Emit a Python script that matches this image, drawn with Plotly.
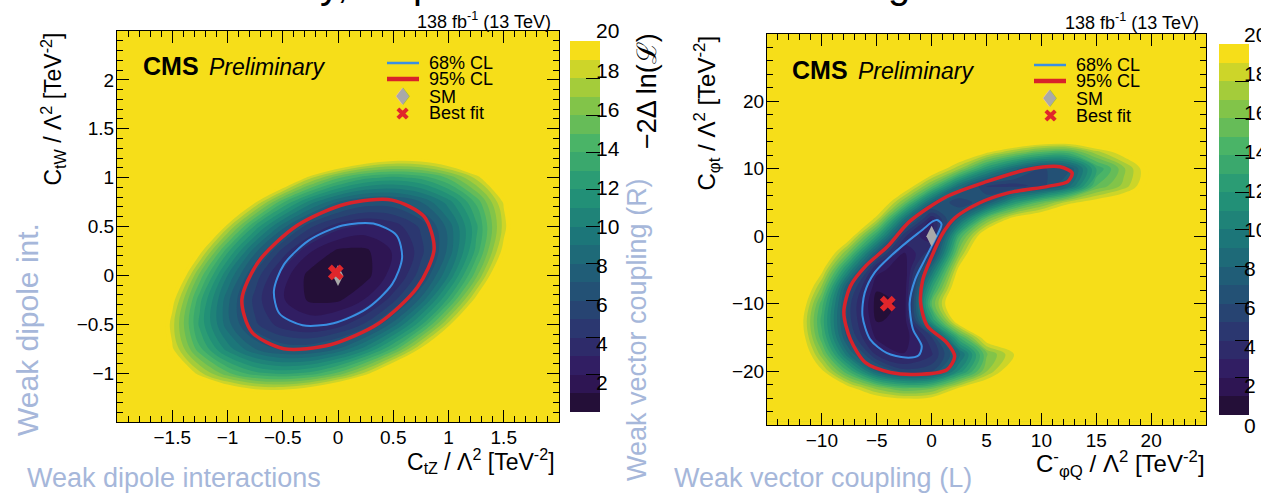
import numpy as np
import plotly.graph_objects as go

W, H = 1261, 495

# ====================== data ======================
# ---- left panel: C_tZ (x) vs C_tW (y), -2 Delta ln L on a grid ----
left_x = [-2.0, -1.75, -1.5, -1.25, -1.0, -0.75, -0.5, -0.25, 0.0, 0.25, 0.5, 0.75, 1.0, 1.25, 1.5, 1.75, 2.0]
left_y = [-1.5, -1.25, -1.0, -0.75, -0.5, -0.25, 0.0, 0.25, 0.5, 0.75, 1.0, 1.25, 1.5, 1.75, 2.0, 2.25, 2.5]
left_z = [
    [30, 30, 30, 30, 30, 30, 30, 30, 30, 30, 30, 30, 30, 30, 30, 30, 30],
    [30, 30, 29.5, 25.8, 23.3, 22.0, 22.0, 23.3, 25.8, 29.5, 30, 30, 30, 30, 30, 30, 30],
    [30, 28.3, 22.7, 18.3, 15.2, 13.3, 12.7, 13.3, 15.2, 18.3, 22.7, 28.3, 30, 30, 30, 30, 30],
    [30, 25.5, 19.2, 14.2, 10.5, 8.0, 6.7, 6.7, 8.0, 10.5, 14.2, 19.2, 25.5, 30, 30, 30, 30],
    [30, 25.2, 18.4, 12.7, 8.4, 5.2, 3.4, 2.7, 3.4, 5.2, 8.4, 12.7, 18.4, 25.2, 30, 30, 30],
    [30, 27.1, 19.6, 13.3, 8.3, 4.6, 2.1, 0.8, 0.8, 2.1, 4.6, 8.3, 13.3, 19.6, 27.1, 30, 30],
    [30, 30, 22.5, 15.6, 10.0, 5.6, 2.5, 0.6, 0.0, 0.6, 2.5, 5.6, 10.0, 15.6, 22.5, 30, 30],
    [30, 30, 27.1, 19.6, 13.3, 8.3, 4.6, 2.1, 0.8, 0.8, 2.1, 4.6, 8.3, 13.3, 19.6, 27.1, 30],
    [30, 30, 30, 25.2, 18.4, 12.7, 8.4, 5.2, 3.4, 2.7, 3.4, 5.2, 8.4, 12.7, 18.4, 25.2, 30],
    [30, 30, 30, 30, 25.5, 19.2, 14.2, 10.5, 8.0, 6.7, 6.7, 8.0, 10.5, 14.2, 19.2, 25.5, 30],
    [30, 30, 30, 30, 30, 28.3, 22.7, 18.3, 15.2, 13.3, 12.7, 13.3, 15.2, 18.3, 22.7, 28.3, 30],
    [30, 30, 30, 30, 30, 30, 30, 29.5, 25.8, 23.3, 22.0, 22.0, 23.3, 25.8, 29.5, 30, 30],
    [30, 30, 30, 30, 30, 30, 30, 30, 30, 30, 30, 30, 30, 30, 30, 30, 30],
    [30, 30, 30, 30, 30, 30, 30, 30, 30, 30, 30, 30, 30, 30, 30, 30, 30],
    [30, 30, 30, 30, 30, 30, 30, 30, 30, 30, 30, 30, 30, 30, 30, 30, 30],
    [30, 30, 30, 30, 30, 30, 30, 30, 30, 30, 30, 30, 30, 30, 30, 30, 30],
    [30, 30, 30, 30, 30, 30, 30, 30, 30, 30, 30, 30, 30, 30, 30, 30, 30],
]
left_bestfit = [-0.02, 0.03]
left_sm = [0.0, 0.0]
left_cl68_x = [0.53, 0.32, 0.04, -0.26, -0.49, -0.58, -0.53, -0.32, -0.04, 0.26, 0.49, 0.58]
left_cl68_y = [0.41, 0.53, 0.51, 0.36, 0.11, -0.16, -0.39, -0.51, -0.49, -0.34, -0.09, 0.18]
left_cl95_x = [0.78, 0.49, 0.07, -0.37, -0.72, -0.87, -0.78, -0.49, -0.07, 0.37, 0.72, 0.87]
left_cl95_y = [0.60, 0.77, 0.73, 0.51, 0.14, -0.25, -0.58, -0.75, -0.71, -0.49, -0.12, 0.27]

# ---- right panel: C-_phiQ (x) vs C_phit (y) ----
right_x = [-15, -12.5, -10, -7.5, -5, -2.5, 0, 2.5, 5, 7.5, 10, 12.5, 15, 17.5, 20, 22.5, 25]
right_y = [-27.5, -25, -22.5, -20, -17.5, -15, -12.5, -10, -7.5, -5, -2.5, 0,
           2.5, 5, 7.5, 10, 12.5, 15, 17.5, 20, 22.5, 25, 27.5, 30]
right_z = [
    [30, 30, 30, 28, 26, 26, 26, 28, 30, 30, 30, 30, 30, 30, 30, 30, 30],
    [30, 30, 26.5, 23.6, 21.9, 21.5, 21.8, 23.3, 25.1, 27.5, 30, 30, 30, 30, 30, 30, 30],
    [30, 27, 22.9, 19.5, 16.6, 14.8, 15.6, 19.1, 21.2, 23.8, 28.5, 30, 30, 30, 30, 30, 30],
    [30, 25, 19.3, 13.7, 7.9, 5.4, 5.8, 11.2, 16.9, 20.8, 26.2, 30, 30, 30, 30, 30, 30],
    [29.3, 22.9, 16.4, 8.9, 3.7, 2.05, 3.8, 8.5, 15.8, 19.0, 25.8, 30, 30, 30, 30, 30, 30],
    [28.9, 22, 14.3, 6.1, 1.7, 1.3, 4.9, 13.9, 20.4, 24.2, 30, 30, 30, 30, 30, 30, 30],
    [28.4, 21.6, 13.6, 5.3, 0.9, 1.3, 12.0, 20.8, 25.3, 30, 30, 30, 30, 30, 30, 30, 30],
    [29.5, 22.6, 14.4, 5.3, 0.5, 1.3, 15.0, 23.1, 28.5, 30, 30, 30, 30, 30, 30, 30, 30],
    [30, 23.8, 16.8, 6.4, 1.2, 1.2, 12.5, 21.4, 27.7, 30, 30, 30, 30, 30, 30, 30, 30],
    [30, 24.6, 19.5, 10.7, 2.4, 1.2, 9.0, 19.7, 25.7, 30, 30, 30, 30, 30, 30, 30, 30],
    [30, 27.4, 22.2, 15.5, 7.0, 1.8, 4.7, 16.6, 24.4, 28, 30, 30, 30, 30, 30, 30, 30],
    [30, 29.2, 24.7, 20.1, 12.7, 4.2, 2.1, 14.0, 21.4, 24.3, 25.9, 27.2, 28.3, 29, 30, 30, 30],
    [30, 30, 27.8, 23.2, 18.3, 9.1, 3.0, 8.4, 15.8, 20.2, 21.8, 23, 24.2, 25.4, 27.2, 30, 30],
    [30, 30, 30, 26.6, 21.9, 15.9, 7.9, 5.0, 7.1, 12.1, 15.5, 18.6, 20, 21.2, 23.5, 29, 30],
    [30, 30, 30, 29.5, 25.2, 20.9, 15.6, 9.0, 4.8, 4.5, 5.5, 8.5, 15.0, 17.3, 20.8, 26.5, 30],
    [30, 30, 30, 30, 28.6, 24.5, 21.1, 17.1, 12.1, 8.4, 5.8, 6.9, 13.0, 16.7, 20.5, 26.2, 30],
    [30, 30, 30, 30, 30, 28.2, 24.7, 22, 19.4, 17.0, 15.0, 14.6, 17.6, 20, 23, 29.7, 30],
    [30, 30, 30, 30, 30, 30, 30, 30, 26, 25, 24, 24, 25, 27, 30, 30, 30],
    [30, 30, 30, 30, 30, 30, 30, 30, 30, 30, 30, 30, 30, 30, 30, 30, 30],
    [30, 30, 30, 30, 30, 30, 30, 30, 30, 30, 30, 30, 30, 30, 30, 30, 30],
    [30, 30, 30, 30, 30, 30, 30, 30, 30, 30, 30, 30, 30, 30, 30, 30, 30],
    [30, 30, 30, 30, 30, 30, 30, 30, 30, 30, 30, 30, 30, 30, 30, 30, 30],
    [30, 30, 30, 30, 30, 30, 30, 30, 30, 30, 30, 30, 30, 30, 30, 30, 30],
    [30, 30, 30, 30, 30, 30, 30, 30, 30, 30, 30, 30, 30, 30, 30, 30, 30],
]
right_bestfit = [-4.0, -10.0]
right_sm = [0.0, 0.0]
right_cl68_x = [0.5, 0.9, 0.3, -0.6, -1.5, -2.0, -1.7, -0.9, -1.2, -2.4, -4.1, -5.6, -6.3, -6.1, -5.2, -3.7, -2.2, -0.8, 0.1]
right_cl68_y = [2.4, 1.8, -0.5, -3.4, -6.4, -9.9, -13.8, -16.3, -17.7, -18.0, -17.3, -15.3, -11.8, -8.4, -5.4, -2.9, -0.8, 1.0, 2.2]
right_cl95_x = [-3.75, -6.0, -7.4, -8.0, -7.4, -6.0, -4.0, -2.0, 1.4, 5.0, 8.75, 11.7, 12.8, 12.4, 10.6, 6.9, 4.3, 2.1, 1.0, -0.1, -0.8, -1.0, -0.4, 1.4, 2.1, 1.4, -1.5]
right_cl95_y = [-20.2, -18.8, -15.3, -11.3, -7.4, -4.4, -1.5, 2.2, 5.9, 8.1, 9.9, 10.3, 9.4, 8.1, 7.4, 6.4, 4.9, 2.7, 0.4, -3.4, -6.4, -9.9, -13.3, -15.8, -17.8, -19.8, -20.5]

# axis tick labels
left_xticks = [-1.5, -1, -0.5, 0, 0.5, 1, 1.5]
left_yticks = [-1, -0.5, 0, 0.5, 1, 1.5, 2]
right_xticks = [-10, -5, 0, 5, 10, 15, 20]
right_yticks = [-20, -10, 0, 10, 20]
left_zticks = [2, 4, 6, 8, 10, 12, 14, 16, 18, 20]
right_zticks = [0, 2, 4, 6, 8, 10, 12, 14, 16, 18, 20]

# ====================== styling ======================
FONT = "Liberation Sans, Arial, sans-serif"
SLIDE_COL = "#a6b7da"
YELLOW = "rgb(246,222,25)"
BLUE = "#3a8fe3"
RED = "#d8232a"

stops = [0, .125, .25, .375, .5, .625, .75, .875, 1]
rr = [26, 51, 43, 33, 28, 35, 74, 144, 246]
gg = [9, 24, 55, 87, 118, 150, 180, 200, 222]
bb = [30, 96, 112, 118, 121, 119, 103, 66, 25]


def pal(t):
    return "rgb(%d,%d,%d)" % (round(np.interp(t, stops, rr)), round(np.interp(t, stops, gg)),
                               round(np.interp(t, stops, bb)))


band = [pal((k + 1) / 20) for k in range(20)]
region = [band[0]] + band + [band[19]]
cscale = []
for j, col in enumerate(region):
    lo, hi = max(0.0, (j - 0.5) / 21), min(1.0, (j + 0.5) / 21)
    cscale += [[lo, col], [hi, col]]
cb_scale = []
for k in range(20):
    cb_scale += [[k / 20, band[k]], [(k + 1) / 20, band[k]]]


def P(x, y):
    return x / W, 1 - y / H


fig = go.Figure()


def cbar(x0, ytop):
    return dict(thickness=30, thicknessmode="pixels", len=391, lenmode="pixels",
                x=x0 / W, xanchor="left", y=1 - ytop / H, yanchor="top",
                tickmode="array", tickvals=list(range(0, 21, 2)), ticks="inside", ticklen=14,
                tickcolor="black", showticklabels=False, outlinewidth=0)


for xa, ya, gx, gy, gz, cx, top in [("x", "y", left_x, left_y, left_z, 560, 31),
                                     ("x2", "y2", right_x, right_y, right_z, 1209, 34)]:
    fig.add_trace(go.Contour(x=gx, y=gy, z=gz, xaxis=xa, yaxis=ya, showscale=False,
                             autocontour=False,
                             contours=dict(start=0, end=20, size=1, coloring="fill", showlines=False),
                             colorscale=cscale, line=dict(width=0, smoothing=1.0), hoverinfo="skip"))
    # colour-bar carrier, kept outside the visible axis range
    fig.add_trace(go.Heatmap(z=[[0, 20]], x=[1000, 1001], y=[1000], xaxis=xa, yaxis=ya,
                             zmin=0, zmax=20, colorscale=cb_scale, colorbar=cbar(cx, top),
                             hoverinfo="skip"))


def closed(a):
    return list(a) + [a[0]]


for xa, ya, c68x, c68y, c95x, c95y, sm, bf in [
        ("x", "y", left_cl68_x, left_cl68_y, left_cl95_x, left_cl95_y, left_sm, left_bestfit),
        ("x2", "y2", right_cl68_x, right_cl68_y, right_cl95_x, right_cl95_y, right_sm, right_bestfit)]:
    fig.add_trace(go.Scatter(x=closed(c68x), y=closed(c68y), xaxis=xa, yaxis=ya, mode="lines",
                             line=dict(color=BLUE, width=2, shape="spline", smoothing=0.8), hoverinfo="skip"))
    fig.add_trace(go.Scatter(x=closed(c95x), y=closed(c95y), xaxis=xa, yaxis=ya, mode="lines",
                             line=dict(color=RED, width=3.5, shape="spline", smoothing=0.8), hoverinfo="skip"))
    fig.add_trace(go.Scatter(x=[sm[0]], y=[sm[1]], xaxis=xa, yaxis=ya, mode="markers",
                             marker=dict(symbol="diamond-tall", size=15, color="#a9a9a9"), hoverinfo="skip"))
    fig.add_trace(go.Scatter(x=[bf[0]], y=[bf[1]], xaxis=xa, yaxis=ya, mode="markers",
                             marker=dict(symbol="x", size=14, color="#e0262b", line=dict(width=0)), hoverinfo="skip"))


def axis(dom, rng, vals, minor_dt, anchor):
    return dict(domain=dom, range=rng, anchor=anchor, showline=True, linecolor="black", linewidth=1,
                mirror="allticks", ticks="inside", ticklen=12, tickwidth=1, tickcolor="black",
                tickmode="array", tickvals=vals, showgrid=False, zeroline=False,
                tickfont=dict(family=FONT, size=19, color="black"), ticklabelstandoff=-2,
                minor=dict(ticks="inside", ticklen=6, tickwidth=1, tickcolor="black",
                           tickmode="linear", tick0=0, dtick=minor_dt, showgrid=False))


fig.update_layout(
    width=W, height=H, margin=dict(l=0, r=0, t=0, b=0, autoexpand=False),
    paper_bgcolor="white", plot_bgcolor=YELLOW, showlegend=False,
    xaxis=axis([117 / W, 559 / W], [-2, 2], left_xticks, 0.1, "y"),
    yaxis=axis([1 - 422 / H, 1 - 31 / H], [-1.5, 2.5], left_yticks, 0.1, "x"),
    xaxis2=axis([767 / W, 1206 / W], [-15, 25], right_xticks, 1, "y2"),
    yaxis2=axis([1 - 425 / H, 1 - 34 / H], [-28, 30], right_yticks, 2, "x2"),
)

anns = []
shapes = []


def ann(text, x, y, size, xanchor="left", yanchor="middle", color="black", family=FONT, angle=0):
    xp, yp = P(x, y)
    anns.append(dict(text=text, x=xp, y=yp, xref="paper", yref="paper", showarrow=False,
                     xanchor=xanchor, yanchor=yanchor, textangle=angle,
                     font=dict(family=family, size=size, color=color)))


# colour-bar labels
for v in left_zticks:
    ann(str(v), 594, 422 - v * 19.55, 21)
for v in right_zticks:
    ann(str(v), 1242, 425 - v * 19.55, 21)

# cut-off slide title above the page (only descenders reach the top edge)
for ch, xx in [("y,", 334), ("p", 424), ("g", 899)]:
    ann(ch, xx, 8, 40, xanchor="center", yanchor="bottom")

# luminosity labels
ann("138 fb<sup>-1</sup> (13 TeV)", 553, 20, 18, xanchor="right")
ann("138 fb<sup>-1</sup> (13 TeV)", 1201, 22, 18, xanchor="right")
# CMS Preliminary
ann("<b>CMS</b>", 141, 66, 25)
ann("<i>Preliminary</i>", 207, 67, 23)
ann("<b>CMS</b>", 790, 70, 25)
ann("<i>Preliminary</i>", 856, 71, 23)

# legends
for (lx0, lx1, tx, rows) in [(387, 419, 427, [63, 79, 97, 113]), (1034, 1066, 1074, [65, 81, 99, 116])]:
    for yy, col, wd in [(rows[0], BLUE, 2.5), (rows[1], RED, 4.5)]:
        x0, y0 = P(lx0, yy)
        x1, _ = P(lx1, yy)
        shapes.append(dict(type="line", xref="paper", yref="paper", x0=x0, x1=x1, y0=y0, y1=y0,
                           line=dict(color=col, width=wd)))
    ann("68% CL", tx, rows[0], 18)
    ann("95% CL", tx, rows[1], 18)
    ann("SM", tx, rows[2], 18)
    ann("Best fit", tx, rows[3], 18)
    ann("\u2666", (lx0 + lx1) / 2, rows[2], 24, xanchor="center", color="#a9a9a9", family="DejaVu Sans")
    ann("\u2716", (lx0 + lx1) / 2, rows[3], 18, xanchor="center", color="#e0262b", family="DejaVu Sans")

# axis titles
ann("C<sub>tZ</sub> / \u039b<sup>2</sup> [TeV<sup>-2</sup>]", 557, 461, 23, xanchor="right")
ann("C<sub>tW</sub> / \u039b<sup>2</sup> [TeV<sup>-2</sup>]", 53, 31, 23, xanchor="center", yanchor="top", angle=-90)
ann("C<sup>-</sup><sub>\u03c6Q</sub> / \u039b<sup>2</sup> [TeV<sup>-2</sup>]", 1207, 464, 24, xanchor="right")
ann("C<sub>\u03c6t</sub> / \u039b<sup>2</sup> [TeV<sup>-2</sup>]", 706, 34, 24, xanchor="center", yanchor="top", angle=-90)
ann("\u22122\u0394 ln(\u2112)", 647, 31, 27, xanchor="center", yanchor="top", angle=-90)

# slide annotations
ann("Weak dipole interactions", 25, 478, 27, color=SLIDE_COL)
ann("Weak vector coupling (L)", 672, 478, 27, color=SLIDE_COL)
ann("Weak dipole int.", 27, 330, 30, xanchor="center", color=SLIDE_COL, angle=-90)
ann("Weak vector coupling (R)", 637, 330, 27, xanchor="center", color=SLIDE_COL, angle=-90)

fig.update_layout(annotations=anns, shapes=shapes)
fig.write_html("out.html", config={"displayModeBar": False},
               post_script="document.body.style.margin='0px';")
